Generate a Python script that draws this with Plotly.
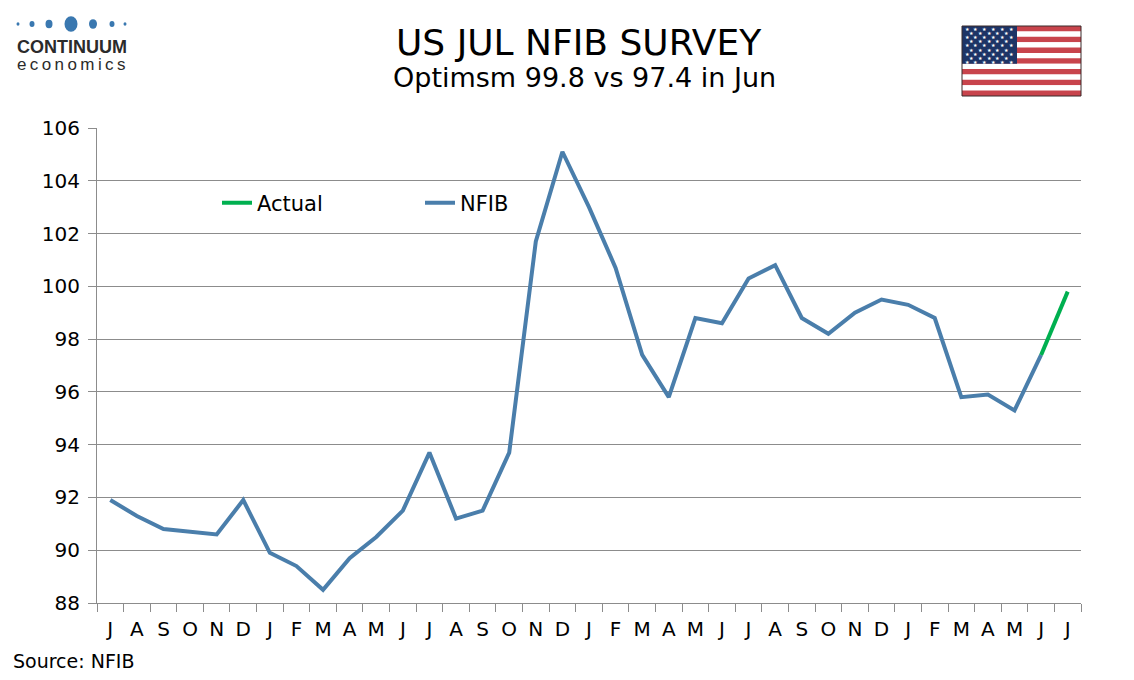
import plotly.graph_objects as go

# Monthly categories, Jul 2023 to Jul 2026
months = [
    "Jul 2023", "Aug 2023", "Sep 2023", "Oct 2023", "Nov 2023", "Dec 2023",
    "Jan 2024", "Feb 2024", "Mar 2024", "Apr 2024", "May 2024", "Jun 2024",
    "Jul 2024", "Aug 2024", "Sep 2024", "Oct 2024", "Nov 2024", "Dec 2024",
    "Jan 2025", "Feb 2025", "Mar 2025", "Apr 2025", "May 2025", "Jun 2025",
    "Jul 2025", "Aug 2025", "Sep 2025", "Oct 2025", "Nov 2025", "Dec 2025",
    "Jan 2026", "Feb 2026", "Mar 2026", "Apr 2026", "May 2026", "Jun 2026",
    "Jul 2026",
]
month_letters = [
    "J", "A", "S", "O", "N", "D", "J", "F", "M", "A", "M", "J",
    "J", "A", "S", "O", "N", "D", "J", "F", "M", "A", "M", "J",
    "J", "A", "S", "O", "N", "D", "J", "F", "M", "A", "M", "J",
    "J",
]
nfib = [
    91.9, 91.3, 90.8, 90.7, 90.6, 91.9, 89.9, 89.4, 88.5, 89.7, 90.5, 91.5,
    93.7, 91.2, 91.5, 93.7, 101.7, 105.1, 103.0, 100.7, 97.4, 95.8, 98.8, 98.6,
    100.3, 100.8, 98.8, 98.2, 99.0, 99.5, 99.3, 98.8, 95.8, 95.9, 95.3, 97.4,
    None,
]
actual = [None] * 35 + [97.4, 99.8]

y_ticks = [88, 90, 92, 94, 96, 98, 100, 102, 104, 106]

blue = "#4a7eab"
green = "#00b050"
grid = "#8c8c8c"
font_name = "DejaVu Sans"

# page has an 8px body margin; plot area given in screenshot pixels
OFF = 8
W, H = 1134 - 2 * OFF, 680 - 2 * OFF
L, R, T, B = 97, 1081, 128, 603


def px(x):
    return (x - L) / (R - L)


def py(y):
    return (B - y) / (B - T)


def label(text, x, y, size, xanchor="center", **font):
    return dict(text=text, x=px(x), y=py(y), xref="paper", yref="paper",
                xanchor=xanchor, yanchor="middle", showarrow=False,
                font=dict(size=size, color=font.get("color", "#000000"),
                          family=font.get("family", font_name)))


fig = go.Figure()

fig.add_trace(go.Scatter(
    x=months, y=nfib, name="NFIB", mode="lines",
    line=dict(color=blue, width=4), hoverinfo="x+y",
))
fig.add_trace(go.Scatter(
    x=months, y=actual, name="Actual", mode="lines",
    line=dict(color=green, width=4), hoverinfo="x+y",
))

annotations = [
    label("US JUL NFIB SURVEY", 579, 42, 36),
    label("Optimsm 99.8 vs 97.4 in Jun", 584, 78, 27),
    label("Source: NFIB", 11, 661, 19, xanchor="left"),
    # logo
    label("<b>CONTINUUM</b>", 15, 47, 18, xanchor="left",
          color="#2b2b2b", family="Liberation Sans"),
    label("\u2009".join("economics"), 15, 65, 17, xanchor="left",
          color="#2b2b2b", family="Liberation Sans"),
]

shapes = []

# logo dots
for cx, d in [(18, 3), (32, 5), (49, 7), (71, 13), (93, 8), (112, 5), (125, 3)]:
    shapes.append(dict(type="circle", xref="paper", yref="paper",
                       x0=px(cx - d / 2), x1=px(cx + d / 2),
                       y0=py(24 + d * 0.6), y1=py(24 - d * 0.6),
                       fillcolor="#3a78b0", line=dict(width=0)))

# US flag
fx0, fx1, fy0, fy1 = 962, 1081, 26, 96
stripe_h = (fy1 - fy0) / 13
for i in range(13):
    shapes.append(dict(type="rect", xref="paper", yref="paper",
                       x0=px(fx0), x1=px(fx1),
                       y0=py(fy0 + i * stripe_h), y1=py(fy0 + (i + 1) * stripe_h),
                       fillcolor="#c8444c" if i % 2 == 0 else "#ffffff",
                       line=dict(width=0)))
cx1 = 1017
cy1 = fy0 + 7 * stripe_h
shapes.append(dict(type="rect", xref="paper", yref="paper",
                   x0=px(fx0), x1=px(cx1), y0=py(fy0), y1=py(cy1),
                   fillcolor="#1d3466", line=dict(width=0)))
shapes.append(dict(type="rect", xref="paper", yref="paper",
                   x0=px(fx0), x1=px(fx1), y0=py(fy0), y1=py(fy1),
                   fillcolor="rgba(0,0,0,0)", line=dict(width=1, color="#3a2a2a")))
for row in range(9):
    n = 6 if row % 2 == 0 else 5
    for k in range(n):
        sx = fx0 + 5 + (k * 2 + (0 if row % 2 == 0 else 1)) * 4.4
        sy = fy0 + 3 + row * 4.1
        annotations.append(label("\u2605", sx, sy, 5, color="#ffffff"))

fig.update_layout(
    width=W, height=H,
    margin=dict(l=L - OFF, r=W + OFF - R, t=T - OFF, b=H + OFF - B),
    paper_bgcolor="#ffffff", plot_bgcolor="#ffffff",
    font=dict(family=font_name, size=20, color="#000000"),
    showlegend=True,
    legend=dict(orientation="h", x=px(217), y=py(203), yanchor="middle",
                xanchor="left", traceorder="reversed",
                entrywidth=158, entrywidthmode="pixels",
                font=dict(size=21), bgcolor="rgba(0,0,0,0)"),
    annotations=annotations,
    shapes=shapes,
)

fig.update_xaxes(
    type="category", categoryorder="array", categoryarray=months,
    tickvals=months, ticktext=month_letters, tickson="boundaries",
    ticks="outside", ticklen=8, tickcolor=grid, tickwidth=1,
    showline=True, linecolor=grid, linewidth=1, ticklabelstandoff=8,
    showgrid=False, range=[-0.5, len(months) - 0.5],
    tickfont=dict(size=20), fixedrange=True,
)
fig.update_yaxes(
    range=[88, 106], tickvals=y_ticks,
    ticks="outside", ticklen=8, tickcolor=grid, ticklabelstandoff=4,
    showline=True, linecolor=grid, linewidth=1,
    showgrid=True, gridcolor=grid, gridwidth=1, zeroline=False,
    tickfont=dict(size=20), fixedrange=True,
)

fig.write_html("out.html")
